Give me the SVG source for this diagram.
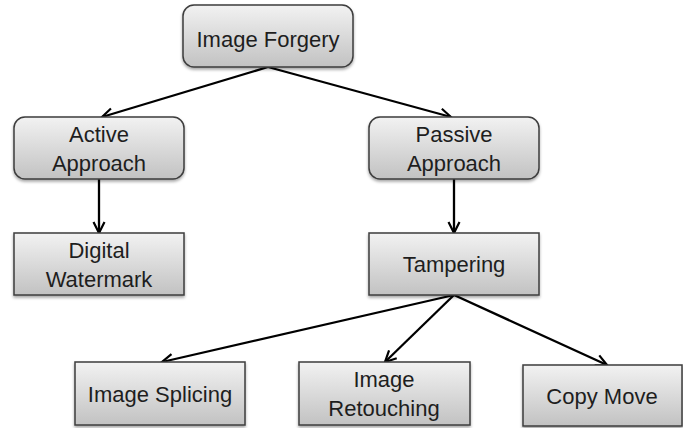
<svg xmlns="http://www.w3.org/2000/svg" width="683" height="428" viewBox="0 0 683 428">
<defs>
<linearGradient id="g" x1="0" y1="0" x2="0" y2="1">
<stop offset="0" stop-color="#f2f2f2"/>
<stop offset="1" stop-color="#c2c2c2"/>
</linearGradient>
<filter id="sh" x="-10%" y="-10%" width="120%" height="130%">
<feDropShadow dx="0" dy="2" stdDeviation="1.5" flood-color="#000" flood-opacity="0.35"/>
</filter>
<marker id="arr" viewBox="0 0 14 14" refX="12.5" refY="7" markerWidth="14" markerHeight="14" markerUnits="userSpaceOnUse" orient="auto">
<path d="M1.5,1.5 L12.5,7 L1.5,12.5" fill="none" stroke="#000" stroke-width="2.2"/>
</marker>
<style>
.box{fill:url(#g);stroke:#3c3c3c;stroke-width:1.5;filter:url(#sh)}
.t{font-family:"Liberation Sans",Arial,sans-serif;font-size:22px;fill:#1e1e1e;text-anchor:middle}
.c{stroke:#000;stroke-width:2.3;fill:none;marker-end:url(#arr)}
</style>
</defs>
<g id="connectors">
<line class="c" x1="268" y1="67" x2="102" y2="117"/>
<line class="c" x1="268" y1="67" x2="451" y2="117"/>
<line class="c" x1="99" y1="179" x2="99" y2="233"/>
<line class="c" x1="454" y1="179" x2="454" y2="233"/>
<line class="c" x1="454" y1="295" x2="162" y2="362"/>
<line class="c" x1="454" y1="295" x2="385" y2="362"/>
<line class="c" x1="454" y1="295" x2="607" y2="365"/>
</g>
<g id="image-forgery">
<rect class="box" x="183" y="5" width="170" height="62" rx="11"/>
<text class="t" x="268" y="47">Image Forgery</text>
</g>
<g id="active-approach">
<rect class="box" x="14" y="117" width="170" height="62" rx="11"/>
<text class="t" x="99" y="142">Active</text>
<text class="t" x="99" y="171">Approach</text>
</g>
<g id="passive-approach">
<rect class="box" x="369" y="117" width="170" height="62" rx="11"/>
<text class="t" x="454" y="142">Passive</text>
<text class="t" x="454" y="171">Approach</text>
</g>
<g id="digital-watermark">
<rect class="box" x="14" y="233" width="170" height="62"/>
<text class="t" x="99" y="258">Digital</text>
<text class="t" x="99" y="287">Watermark</text>
</g>
<g id="tampering">
<rect class="box" x="369" y="233" width="170" height="62"/>
<text class="t" x="454" y="272">Tampering</text>
</g>
<g id="image-splicing">
<rect class="box" x="75" y="362" width="170" height="63"/>
<text class="t" x="160" y="402">Image Splicing</text>
</g>
<g id="image-retouching">
<rect class="box" x="299" y="362" width="171" height="63"/>
<text class="t" x="384" y="387">Image</text>
<text class="t" x="384" y="416">Retouching</text>
</g>
<g id="copy-move">
<rect class="box" x="523" y="365" width="159" height="61"/>
<text class="t" x="602" y="404">Copy Move</text>
</g>
</svg>
